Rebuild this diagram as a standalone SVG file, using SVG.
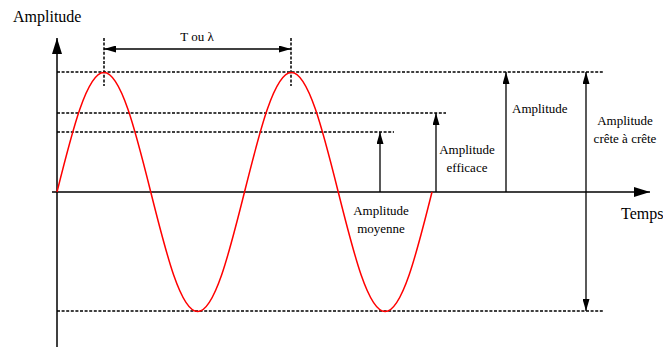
<svg xmlns="http://www.w3.org/2000/svg" width="663" height="347" viewBox="0 0 663 347">
<style>
text{font-family:"Liberation Serif","Times New Roman",serif;fill:#000}
.ax{stroke:#000;stroke-width:1.5;fill:none}
.ln{stroke:#000;stroke-width:1.3;fill:none}
.dash{stroke:#000;stroke-width:1.5;fill:none;stroke-dasharray:3 1.6}
.sine{stroke:#ff0000;stroke-width:1.5;fill:none}
.big{font-size:16px}
.sm{font-size:13px}
</style>
<defs>
<marker id="ah" markerUnits="userSpaceOnUse" markerWidth="12" markerHeight="7" refX="12" refY="3.5" orient="auto-start-reverse" viewBox="0 0 12 7">
<path d="M0,0 L12,3.5 L0,7 z" fill="#000"/>
</marker>
<marker id="axh" markerUnits="userSpaceOnUse" markerWidth="16" markerHeight="10" refX="16" refY="5" orient="auto" viewBox="0 0 16 10">
<path d="M0,0 L16,5 L0,10 z" fill="#000"/>
</marker>
</defs>
<g id="guides">
<line class="dash" x1="57" y1="72" x2="603" y2="72"/>
<line class="dash" x1="57" y1="113" x2="446" y2="113"/>
<line class="dash" x1="57" y1="132" x2="394" y2="132"/>
<line class="dash" x1="57" y1="311" x2="603" y2="311"/>
<line class="dash" x1="104" y1="38" x2="104" y2="86"/>
<line class="dash" x1="291" y1="38" x2="291" y2="86"/>
</g>
<g id="axes">
<line class="ax" x1="57" y1="347" x2="57" y2="38" marker-end="url(#axh)"/>
<line class="ax" x1="52" y1="192" x2="650" y2="192" marker-end="url(#axh)"/>
<text class="big" x="13" y="22">Amplitude</text>
<text class="big" x="621" y="219">Temps</text>
</g>
<g id="signal">
<path class="sine" d="M57,192 C72.29,130.78 86.91,72.5 103.88,72.5 S135.46,130.78 150.75,192 S180.66,311.5 197.63,311.5 S229.21,253.22 244.5,192 S274.41,72.5 291.38,72.5 S322.96,130.78 338.25,192 S368.16,311.5 385.13,311.5 S416.71,253.22 432,192"/>
</g>
<g id="connectors">
<line class="ln" x1="104" y1="49" x2="291" y2="49" marker-start="url(#ah)" marker-end="url(#ah)"/>
<line class="ln" x1="380" y1="192" x2="380" y2="132" marker-end="url(#ah)"/>
<line class="ln" x1="436" y1="192" x2="436" y2="113" marker-end="url(#ah)"/>
<line class="ln" x1="506" y1="192" x2="506" y2="72" marker-end="url(#ah)"/>
<line class="ln" x1="586" y1="72" x2="586" y2="311" marker-start="url(#ah)" marker-end="url(#ah)"/>
</g>
<g id="period">
<text class="sm" x="197" y="41" text-anchor="middle">T ou λ</text>
</g>
<g id="moyenne">
<text class="sm" x="381" y="215" text-anchor="middle">Amplitude</text>
<text class="sm" x="381" y="233" text-anchor="middle">moyenne</text>
</g>
<g id="efficace">
<text class="sm" x="467" y="154" text-anchor="middle">Amplitude</text>
<text class="sm" x="467" y="172" text-anchor="middle">efficace</text>
</g>
<g id="amplitude">
<text class="sm" x="512" y="113">Amplitude</text>
</g>
<g id="crete">
<text class="sm" x="625" y="125" text-anchor="middle">Amplitude</text>
<text class="sm" x="625" y="143" text-anchor="middle">crête à crête</text>
</g>
</svg>
